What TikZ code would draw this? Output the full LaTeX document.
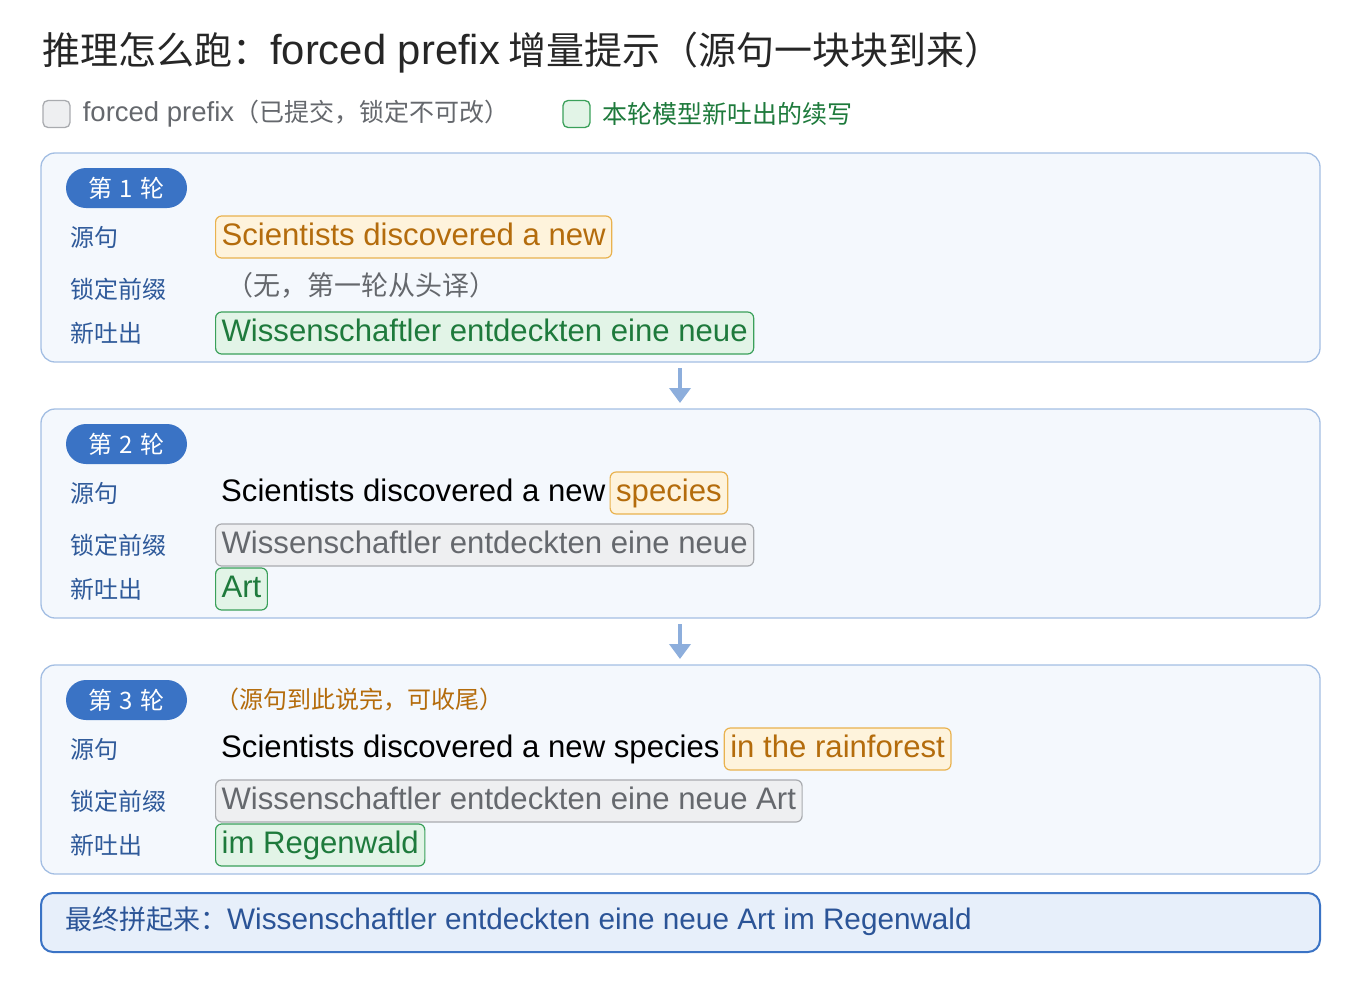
\documentclass[tikz,border=0pt]{standalone}
\usepackage{fontspec}
\setmainfont{Noto Sans CJK SC}
\newfontfamily\lat{Liberation Sans}[Scale=1.1]
\usetikzlibrary{positioning,arrows.meta}
\definecolor{panelfill}{HTML}{F4F8FD}
\definecolor{paneldraw}{HTML}{A3BEE3}
\definecolor{badgeblue}{HTML}{3A73C5}
\definecolor{labelblue}{HTML}{2F5A9A}
\definecolor{srcfill}{HTML}{FEF3DC}
\definecolor{srcdraw}{HTML}{E9B24E}
\definecolor{srctext}{HTML}{B46C0C}
\definecolor{lockfill}{HTML}{EEEFF1}
\definecolor{lockdraw}{HTML}{A9ABAF}
\definecolor{locktext}{HTML}{65686D}
\definecolor{newfill}{HTML}{E2F4E7}
\definecolor{newdraw}{HTML}{3AA05A}
\definecolor{newtext}{HTML}{1E7A3C}
\definecolor{finalfill}{HTML}{E7EFFA}
\definecolor{finaltext}{HTML}{2B5497}
\definecolor{arrowblue}{HTML}{8DAEDC}
\begin{document}
\begin{tikzpicture}[
    x=1pt, y=-1pt,
    panel/.style={draw=paneldraw, fill=panelfill, line width=1.3pt, rounded corners=14pt},
    badge/.style={fill=badgeblue, text=white, rounded corners=20pt, minimum width=121pt, minimum height=40pt, inner sep=0pt, font=\fontsize{24}{28}\selectfont},
    rowlabel/.style={anchor=west, text=labelblue, inner sep=0pt, font=\fontsize{24}{28}\selectfont},
    chunk/.style={anchor=west, rounded corners=6pt, line width=1.2pt, minimum height=42pt, inner xsep=6pt, inner ysep=0pt, text height=23pt, text depth=7pt, font=\fontsize{28.3}{34}\selectfont\lat},
    srcbox/.style={chunk, draw=srcdraw, fill=srcfill, text=srctext},
    lockbox/.style={chunk, draw=lockdraw, fill=lockfill, text=locktext},
    newbox/.style={chunk, draw=newdraw, fill=newfill, text=newtext},
    plain/.style={anchor=west, inner sep=0pt, text height=23pt, text depth=7pt, font=\fontsize{28.3}{34}\selectfont\lat},
    note/.style={anchor=west, inner sep=0pt},
    arrow/.style={-{Triangle[length=15pt,width=21pt]}, draw=arrowblue, fill=arrowblue, line width=4pt}
]
\useasboundingbox (0,0) rectangle (1360,993);

% Title and legend
\node[note, text=black!85, font=\fontsize{38}{44}\selectfont] (title) at (42,53) {推理怎么跑：{\lat forced prefix} 增量提示（源句一块块到来）};
\node[draw=lockdraw, fill=lockfill, rounded corners=5pt, line width=1.3pt, minimum size=27pt, inner sep=0pt] (keylock) at (56.5,114) {};
\node[right=12pt of keylock, inner sep=0pt, text=locktext, font=\fontsize{25}{30}\selectfont] (keylocktext) {{\lat forced prefix}（已提交，锁定不可改）};
\node[draw=newdraw, fill=newfill, rounded corners=5pt, line width=1.3pt, minimum size=27pt, inner sep=0pt] (keynew) at (576.5,114) {};
\node[right=12pt of keynew, inner sep=0pt, text=newtext, font=\fontsize{25}{30}\selectfont] (keynewtext) {本轮模型新吐出的续写};

% Round 1
\draw[panel] (41,153) rectangle (1320,362);
\node[badge] (badge1) at (126.5,188) {第\hspace{7pt}1\hspace{7pt}轮};
\node[rowlabel] (src1) at (70,237) {源句};
\node[rowlabel] (lock1) at (70,289) {锁定前缀};
\node[rowlabel] (new1) at (70,333) {新吐出};
\node[srcbox] (srcchunk1) at (215,237) {Scientists discovered a new};
\node[note, text=locktext, font=\fontsize{27}{32}\selectfont] (lockchunk1) at (226,285) {（无，第一轮从头译）};
\node[newbox] (newchunk1) at (215,333) {Wissenschaftler entdeckten eine neue};

% Round 2
\draw[panel] (41,409) rectangle (1320,618);
\node[badge] (badge2) at (126.5,444) {第\hspace{7pt}2\hspace{7pt}轮};
\node[rowlabel] (src2) at (70,493) {源句};
\node[rowlabel] (lock2) at (70,545) {锁定前缀};
\node[rowlabel] (new2) at (70,589) {新吐出};
\node[plain] (srcold2) at (221,493) {Scientists discovered a new};
\node[srcbox, right=4pt of srcold2] (srcchunk2) {species};
\node[lockbox] (lockchunk2) at (215,545) {Wissenschaftler entdeckten eine neue};
\node[newbox] (newchunk2) at (215,589) {Art};

% Round 3
\draw[panel] (41,665) rectangle (1320,874);
\node[badge] (badge3) at (126.5,700) {第\hspace{7pt}3\hspace{7pt}轮};
\node[note, text=srctext, font=\fontsize{24}{28}\selectfont] (note3) at (215,700) {（源句到此说完，可收尾）};
\node[rowlabel] (src3) at (70,749) {源句};
\node[rowlabel] (lock3) at (70,801) {锁定前缀};
\node[rowlabel] (new3) at (70,845) {新吐出};
\node[plain] (srcold3) at (221,749) {Scientists discovered a new species};
\node[srcbox, right=4pt of srcold3] (srcchunk3) {in the rainforest};
\node[lockbox] (lockchunk3) at (215,801) {Wissenschaftler entdeckten eine neue Art};
\node[newbox] (newchunk3) at (215,845) {im Regenwald};

% Arrows between rounds
\coordinate (gap1top) at (680,368);
\coordinate (gap1bot) at (680,403);
\coordinate (gap2top) at (680,624);
\coordinate (gap2bot) at (680,659);
\draw[arrow] (gap1top) -- (gap1bot);
\draw[arrow] (gap2top) -- (gap2bot);

% Final result
\draw[draw=badgeblue, fill=finalfill, line width=2pt, rounded corners=12pt] (41,893) rectangle (1320,952);
\node[note, text=finaltext, font=\fontsize{27}{32}\selectfont] (final) at (65,921) {最终拼起来：{\lat Wissenschaftler entdeckten eine neue Art im Regenwald}};
\end{tikzpicture}
\end{document}
